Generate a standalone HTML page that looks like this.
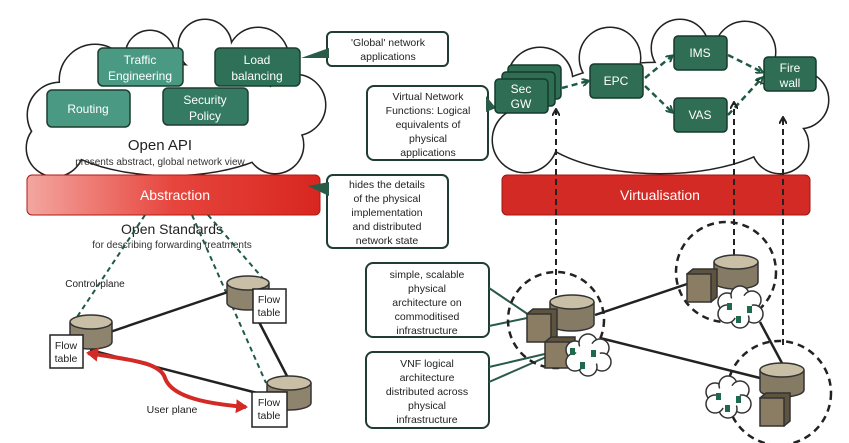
<!DOCTYPE html>
<html><head><meta charset="utf-8"><style>
html,body{margin:0;padding:0;background:#fff;}
svg{display:block;font-family:"Liberation Sans",sans-serif;}
</style></head><body>
<svg width="849" height="443" viewBox="0 0 849 443" xmlns="http://www.w3.org/2000/svg">
<defs>
<linearGradient id="abs" x1="0" x2="1" y1="0" y2="0">
<stop offset="0" stop-color="#f4a6a0"/><stop offset="0.5" stop-color="#e6453d"/><stop offset="1" stop-color="#d8261f"/>
</linearGradient>
<marker id="ah" markerWidth="8" markerHeight="8" refX="6" refY="4" orient="auto" markerUnits="userSpaceOnUse"><path d="M0,0 L7,4 L0,8" fill="none" stroke="#222" stroke-width="2"/></marker>
<marker id="ahg" markerWidth="8" markerHeight="8" refX="6" refY="4" orient="auto" markerUnits="userSpaceOnUse"><path d="M0,0 L7,4 L0,8" fill="none" stroke="#1f5a45" stroke-width="2"/></marker>
<marker id="rh" markerWidth="14" markerHeight="14" refX="10" refY="7" orient="auto-start-reverse" markerUnits="userSpaceOnUse"><path d="M0,0 L12,7 L0,14 Z" fill="#d42a25"/></marker>
</defs>

<!-- LEFT CLOUD -->
<g stroke="#222" stroke-width="3" fill="#fff">
<circle cx="95" cy="80" r="35"/><circle cx="150" cy="55" r="24"/><circle cx="205" cy="46" r="26"/><circle cx="258" cy="58" r="30"/>
<circle cx="295" cy="105" r="30"/><circle cx="275" cy="145" r="28"/><circle cx="60" cy="115" r="32"/><circle cx="55" cy="148" r="28"/>
<ellipse cx="170" cy="120" rx="125" ry="55"/>
</g>
<g fill="#fff">
<circle cx="95" cy="80" r="35"/><circle cx="150" cy="55" r="24"/><circle cx="205" cy="46" r="26"/><circle cx="258" cy="58" r="30"/>
<circle cx="295" cy="105" r="30"/><circle cx="275" cy="145" r="28"/><circle cx="60" cy="115" r="32"/><circle cx="55" cy="148" r="28"/>
<ellipse cx="170" cy="120" rx="125" ry="55"/>
</g>

<!-- RIGHT CLOUD -->
<g stroke="#222" stroke-width="3" fill="#fff">
<circle cx="540" cy="80" r="32"/><circle cx="610" cy="58" r="30"/><circle cx="680" cy="48" r="28"/><circle cx="745" cy="52" r="30"/>
<circle cx="800" cy="100" r="28"/><circle cx="780" cy="145" r="28"/><circle cx="525" cy="140" r="32"/>
<ellipse cx="660" cy="118" rx="130" ry="55"/>
</g>
<g fill="#fff">
<circle cx="540" cy="80" r="32"/><circle cx="610" cy="58" r="30"/><circle cx="680" cy="48" r="28"/><circle cx="745" cy="52" r="30"/>
<circle cx="800" cy="100" r="28"/><circle cx="780" cy="145" r="28"/><circle cx="525" cy="140" r="32"/>
<ellipse cx="660" cy="118" rx="130" ry="55"/>
</g>

<!-- left app boxes -->
<g stroke="#1c3d30" stroke-width="1.5">
<rect x="98" y="48" width="85" height="38" rx="5" fill="#4a9a83"/>
<rect x="215" y="48" width="85" height="38" rx="5" fill="#2f7059"/>
<rect x="47" y="90" width="83" height="37" rx="5" fill="#4a9a83"/>
<rect x="163" y="88" width="85" height="37" rx="5" fill="#357a62"/>
</g>
<g fill="#fff" font-size="12" text-anchor="middle">
<text x="140" y="64">Traffic</text><text x="140" y="80">Engineering</text>
<text x="257" y="64">Load</text><text x="257" y="80">balancing</text>
<text x="88" y="113">Routing</text>
<text x="205" y="104">Security</text><text x="205" y="120">Policy</text>
</g>
<text x="160" y="150" font-size="15" text-anchor="middle" fill="#222">Open API</text>
<text x="160" y="165" font-size="10" text-anchor="middle" fill="#333">presents abstract, global network view</text>

<!-- Abstraction bar -->
<rect x="27" y="175" width="293" height="40" rx="5" fill="url(#abs)" stroke="#b01a14" stroke-width="1"/>
<text x="175" y="200" font-size="14" fill="#fff" text-anchor="middle">Abstraction</text>

<!-- Virtualisation bar -->
<rect x="502" y="175" width="308" height="40" rx="5" fill="#d42a25" stroke="#a01510"/>
<text x="660" y="200" font-size="14" fill="#fff" text-anchor="middle">Virtualisation</text>

<!-- callouts -->
<g fill="#fff" stroke="#1f3d33" stroke-width="2">
<rect x="327" y="32" width="121" height="34" rx="5"/>
<rect x="327" y="175" width="121" height="73" rx="6"/>
<rect x="367" y="86" width="121" height="74" rx="7"/>
<rect x="366" y="263" width="123" height="74" rx="7"/>
<rect x="366" y="352" width="123" height="76" rx="7"/>
</g>
<g fill="#2a5a48">
<path d="M301,58 L329,48 L329,58 Z"/>
<path d="M308,186 L329,182 L329,196 Z"/>
<path d="M496,108 L486,96 L486,112 Z"/>
</g>
<g stroke="#2a5a48" stroke-width="2">
<line x1="489" y1="288" x2="532" y2="317"/><line x1="489" y1="326" x2="532" y2="317"/>
<line x1="489" y1="367" x2="562" y2="350"/><line x1="489" y1="382" x2="562" y2="350"/>
</g>
<g font-size="10.5" fill="#222" text-anchor="middle">
<text x="388" y="46">'Global' network</text><text x="388" y="60">applications</text>
<text x="387" y="188">hides the details</text><text x="387" y="202">of the physical</text><text x="387" y="216">implementation</text><text x="387" y="230">and distributed</text><text x="387" y="244">network state</text>
<text x="428" y="100">Virtual Network</text><text x="428" y="114">Functions: Logical</text><text x="428" y="128">equivalents of</text><text x="428" y="142">physical</text><text x="428" y="156">applications</text>
<text x="427" y="278">simple, scalable</text><text x="427" y="292">physical</text><text x="427" y="306">architecture on</text><text x="427" y="320">commoditised</text><text x="427" y="334">infrastructure</text>
<text x="427" y="367">VNF logical</text><text x="427" y="381">architecture</text><text x="427" y="395">distributed across</text><text x="427" y="409">physical</text><text x="427" y="423">infrastructure</text>
</g>

<!-- right VNF boxes -->
<g stroke="#143a2c" stroke-width="1.5" fill="#2f6e55">
<rect x="508" y="65" width="53" height="34" rx="4"/>
<rect x="502" y="72" width="53" height="34" rx="4"/>
<rect x="495" y="79" width="53" height="34" rx="4"/>
<rect x="590" y="64" width="53" height="34" rx="4"/>
<rect x="674" y="36" width="53" height="34" rx="4"/>
<rect x="674" y="98" width="53" height="34" rx="4"/>
<rect x="764" y="57" width="52" height="34" rx="4"/>
</g>
<g fill="#fff" font-size="12" text-anchor="middle">
<text x="521" y="93">Sec</text><text x="521" y="108">GW</text>
<text x="616" y="85">EPC</text><text x="700" y="57">IMS</text><text x="700" y="119">VAS</text>
<text x="790" y="72">Fire</text><text x="790" y="87">wall</text>
</g>
<g stroke="#1f5a45" stroke-width="2.5" stroke-dasharray="6,4" fill="none" marker-end="url(#ahg)">
<line x1="562" y1="88" x2="588" y2="81"/>
<line x1="645" y1="78" x2="672" y2="56"/>
<line x1="645" y1="86" x2="672" y2="112"/>
<line x1="728" y1="55" x2="762" y2="72"/>
<line x1="728" y1="115" x2="762" y2="78"/>
</g>
<g stroke="#222" stroke-width="2" stroke-dasharray="6,4" fill="none" marker-end="url(#ah)">
<line x1="556" y1="305" x2="556" y2="110"/>
<line x1="734" y1="265" x2="734" y2="103"/>
<line x1="783" y1="345" x2="783" y2="118"/>
</g>

<!-- right physical network -->
<g stroke="#222" stroke-width="2.5">
<line x1="595" y1="315" x2="690" y2="283"/>
<line x1="600" y1="338" x2="760" y2="378"/>
<line x1="760" y1="322" x2="783" y2="365"/>
</g>
<g stroke="#222" stroke-width="2.5" stroke-dasharray="7,5" fill="none">
<circle cx="556" cy="320" r="48"/><circle cx="726" cy="272" r="50"/><circle cx="779" cy="393" r="52"/>
</g>
<g stroke="#333" stroke-width="1.5">
<path d="M550,302 v22 a22,7 0 0 0 44,0 v-22" fill="#857a63"/><ellipse cx="572" cy="302" rx="22" ry="7" fill="#c9bfa6"/>
<path d="M527,314 l6,-5 h24 v28 l-6,5 Z" fill="#5e533f"/><rect x="527" y="314" width="24" height="28" fill="#8a7d63"/>
<path d="M545,342 l6,-5 h24 v26 l-6,5 Z" fill="#5e533f"/><rect x="545" y="342" width="24" height="26" fill="#8a7d63"/>
<path d="M714,262 v20 a22,7 0 0 0 44,0 v-20" fill="#857a63"/><ellipse cx="736" cy="262" rx="22" ry="7" fill="#c9bfa6"/>
<path d="M687,274 l6,-5 h24 v28 l-6,5 Z" fill="#5e533f"/><rect x="687" y="274" width="24" height="28" fill="#8a7d63"/>
<path d="M760,370 v20 a22,7 0 0 0 44,0 v-20" fill="#857a63"/><ellipse cx="782" cy="370" rx="22" ry="7" fill="#c9bfa6"/>
<path d="M760,398 l6,-5 h24 v28 l-6,5 Z" fill="#5e533f"/><rect x="760" y="398" width="24" height="28" fill="#8a7d63"/>
</g>
<g stroke="#333" stroke-width="1.5" fill="#fff">
<g><circle cx="575" cy="350" r="9"/><circle cx="588" cy="343" r="9"/><circle cx="600" cy="348" r="9"/><circle cx="602" cy="362" r="9"/><circle cx="588" cy="367" r="9"/><circle cx="575" cy="362" r="9"/></g>
<g><circle cx="727" cy="302" r="9"/><circle cx="740" cy="295" r="9"/><circle cx="752" cy="300" r="9"/><circle cx="754" cy="314" r="9"/><circle cx="740" cy="319" r="9"/><circle cx="727" cy="314" r="9"/></g>
<g><circle cx="715" cy="392" r="9"/><circle cx="728" cy="385" r="9"/><circle cx="740" cy="390" r="9"/><circle cx="742" cy="404" r="9"/><circle cx="728" cy="409" r="9"/><circle cx="715" cy="404" r="9"/></g>
</g>
<g fill="#fff">
<circle cx="588" cy="355" r="12"/><circle cx="740" cy="307" r="12"/><circle cx="728" cy="397" r="12"/>
</g>
<g fill="#1f6a4c">
<rect x="570" y="348" width="5" height="7"/><rect x="591" y="350" width="5" height="7"/><rect x="580" y="362" width="5" height="7"/>
<rect x="727" y="303" width="5" height="7"/><rect x="747" y="306" width="5" height="7"/><rect x="736" y="316" width="5" height="7"/>
<rect x="716" y="393" width="5" height="7"/><rect x="736" y="396" width="5" height="7"/><rect x="725" y="405" width="5" height="7"/>
</g>

<!-- LEFT network -->
<text x="172" y="234" font-size="14" text-anchor="middle" fill="#222">Open Standards</text>
<text x="172" y="248" font-size="10" text-anchor="middle" fill="#333">for describing forwarding treatments</text>
<g stroke="#1f5a45" stroke-width="2" stroke-dasharray="5,4" fill="none">
<line x1="145" y1="215" x2="75" y2="320"/>
<line x1="192" y1="215" x2="266" y2="383"/>
<line x1="208" y1="215" x2="266" y2="282"/>
</g>
<text x="95" y="287" font-size="10" text-anchor="middle" fill="#222">Control plane</text>
<g stroke="#222" stroke-width="2.5">
<line x1="110" y1="332" x2="228" y2="292"/>
<line x1="258" y1="320" x2="288" y2="378"/>
<line x1="90" y1="350" x2="265" y2="395"/>
</g>
<g stroke="#333" stroke-width="1.5">
<path d="M70,322 v20 a21,7 0 0 0 42,0 v-20" fill="#8e846e"/><ellipse cx="91" cy="322" rx="21" ry="7" fill="#c9bfa6"/>
<path d="M227,283 v20 a21,7 0 0 0 42,0 v-20" fill="#8e846e"/><ellipse cx="248" cy="283" rx="21" ry="7" fill="#c9bfa6"/>
<path d="M267,383 v20 a22,7 0 0 0 44,0 v-20" fill="#8e846e"/><ellipse cx="289" cy="383" rx="22" ry="7" fill="#c9bfa6"/>
</g>
<g fill="#fff" stroke="#222" stroke-width="1.5">
<rect x="50" y="335" width="33" height="33"/><rect x="253" y="289" width="33" height="34"/><rect x="252" y="392" width="35" height="35"/>
</g>
<g font-size="10.5" text-anchor="middle" fill="#222">
<text x="66" y="349">Flow</text><text x="66" y="362">table</text>
<text x="269" y="303">Flow</text><text x="269" y="316">table</text>
<text x="269" y="406">Flow</text><text x="269" y="419">table</text>
</g>
<path d="M88,353 C130,360 160,362 165,378 C172,398 210,404 246,407" fill="none" stroke="#d42a25" stroke-width="4" marker-start="url(#rh)" marker-end="url(#rh)"/>
<text x="172" y="413" font-size="10.5" text-anchor="middle" fill="#222">User plane</text>
</svg>
</body></html>
